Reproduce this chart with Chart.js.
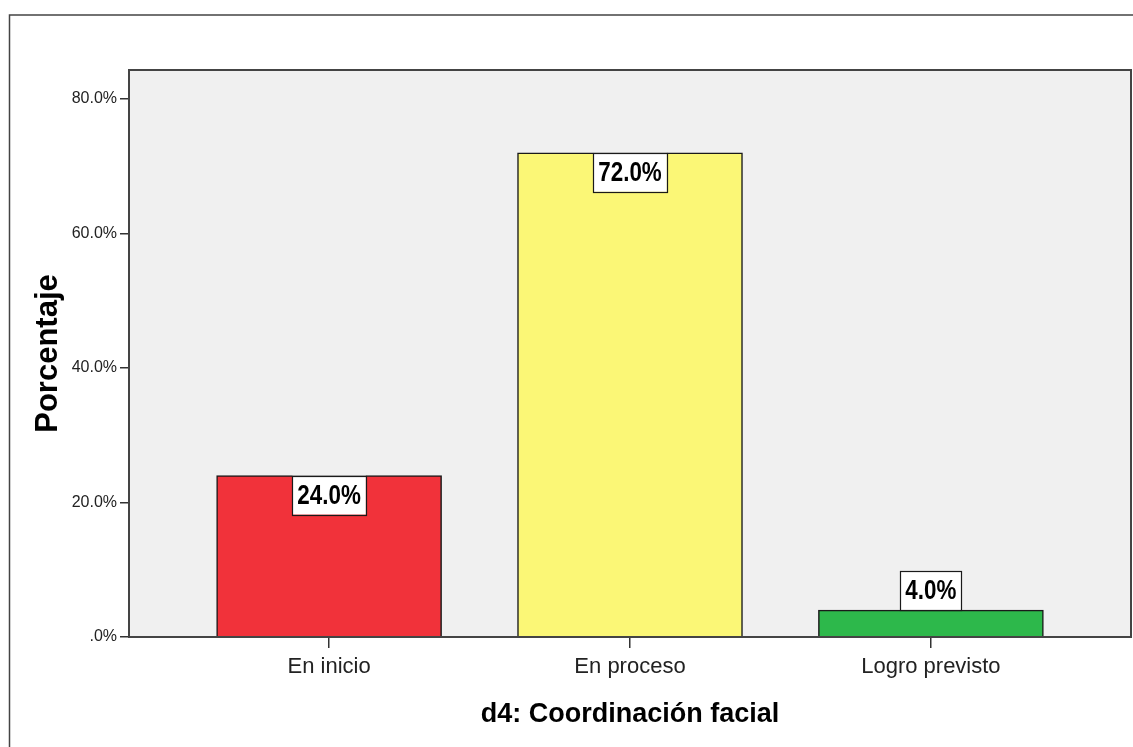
<!DOCTYPE html>
<html><head><meta charset="utf-8">
<script src="https://cdn.jsdelivr.net/npm/chart.js@4"></script>
<style>html,body{margin:0;padding:0;background:#fff}#wrap{width:1133px;height:747px;position:relative}</style>
</head><body><div id="wrap"><canvas id="c"></canvas></div>
<script>
const categories = ['En inicio', 'En proceso', 'Logro previsto'];
const percentages = [24.0, 72.0, 4.0];
const barColors = ['#F1323A', '#FBF776', '#2DB84B'];
const yTickValues = [0, 20, 40, 60, 80];
const yTickLabels = ['.0%', '20.0%', '40.0%', '60.0%', '80.0%'];
const xTitle = 'd4: Coordinación facial';
const yTitle = 'Porcentaje';

const frame = {
  id:'frame',
  beforeDraw(chart){
    const {ctx, chartArea:a} = chart;
    ctx.save();
    ctx.fillStyle='#fff'; ctx.fillRect(0,0,chart.width,chart.height);
    ctx.strokeStyle='#444'; ctx.lineWidth=1.5;
    ctx.beginPath(); ctx.moveTo(9.5,chart.height); ctx.lineTo(9.5,15); ctx.lineTo(chart.width,15); ctx.stroke();
    ctx.fillStyle='#F0F0F0'; ctx.fillRect(a.left,a.top,a.right-a.left,a.bottom-a.top);
    ctx.restore();
  },
  afterDatasetsDraw(chart){
    const {ctx, chartArea:a} = chart;
    ctx.save();
    ctx.strokeStyle='#444'; ctx.lineWidth=2;
    ctx.strokeRect(a.left,a.top,a.right-a.left,a.bottom-a.top);
    const meta = chart.getDatasetMeta(0);
    const sx = 0.8;
    meta.data.forEach((bar,i)=>{
      const txt = percentages[i].toFixed(1)+'%';
      ctx.font = 'bold 28px "Liberation Sans", Arial, sans-serif';
      const tw = ctx.measureText(txt).width*sx;
      const w = tw + 10, h = 39;
      const barH = bar.base - bar.y;
      const top = barH > h ? bar.y : bar.y - h;
      const left = bar.x - w/2;
      ctx.fillStyle='#fff'; ctx.fillRect(left, top, w, h);
      ctx.strokeStyle='#1a1a1a'; ctx.lineWidth=1.2; ctx.strokeRect(Math.round(left)+0.5, Math.round(top)+0.5, Math.round(w), Math.round(h));
      ctx.save();
      ctx.translate(bar.x, top + h/2 + 1);
      ctx.scale(sx,1);
      ctx.fillStyle='#000'; ctx.textAlign='center'; ctx.textBaseline='middle';
      ctx.fillText(txt,0,0);
      ctx.restore();
    });
    ctx.restore();
  }
};

new Chart(document.getElementById('c'), {
  type:'bar',
  data:{
    datasets:[{
      data: percentages.map((v,i)=>({x:i,y:v})),
      backgroundColor: barColors,
      borderColor:'#1a1a1a',
      borderWidth:1.5,
      barThickness:225
    }]
  },
  options:{
    responsive:true, maintainAspectRatio:false, animation:false,
    layout:{padding:{top:70,right:2,left:0,bottom:0}},
    plugins:{legend:{display:false},tooltip:{enabled:false}},
    scales:{
      x:{
        type:'linear', min:-0.665, max:2.665, offset:false,
        afterBuildTicks:s=>{ s.ticks = categories.map((_,i)=>({value:i})); },
        afterFit:s=>{ s.height = 110; },
        ticks:{ callback:v=>categories[v] ?? '', autoSkip:false, maxRotation:0, padding:6,
          font:{family:'"Liberation Sans", Arial, sans-serif', size:22}, color:'#222' },
        grid:{ offset:false, drawOnChartArea:false, drawTicks:true, tickLength:11, color:'#333', lineWidth:1.5 },
        border:{display:false},
        title:{ display:true, text:xTitle, color:'#000', padding:{top:0,bottom:19},
          font:{family:'"Liberation Sans", Arial, sans-serif', size:27, weight:'bold', lineHeight:1} }
      },
      y:{
        min:0, max:84.3,
        afterBuildTicks:s=>{ s.ticks = yTickValues.map(v=>({value:v})); },
        afterFit:s=>{ s.width = 129; },
        ticks:{ callback:v=>yTickLabels[yTickValues.indexOf(v)], padding:3,
          font:{family:'"Liberation Sans", Arial, sans-serif', size:16}, color:'#222' },
        grid:{ drawOnChartArea:false, drawTicks:true, tickLength:9, color:'#333', lineWidth:1.5 },
        border:{display:false},
        title:{ display:true, text:yTitle, color:'#000', padding:{top:33,bottom:0},
          font:{family:'"Liberation Sans", Arial, sans-serif', size:31, weight:'bold', lineHeight:1} }
      }
    }
  },
  plugins:[frame]
});
</script></body></html>
